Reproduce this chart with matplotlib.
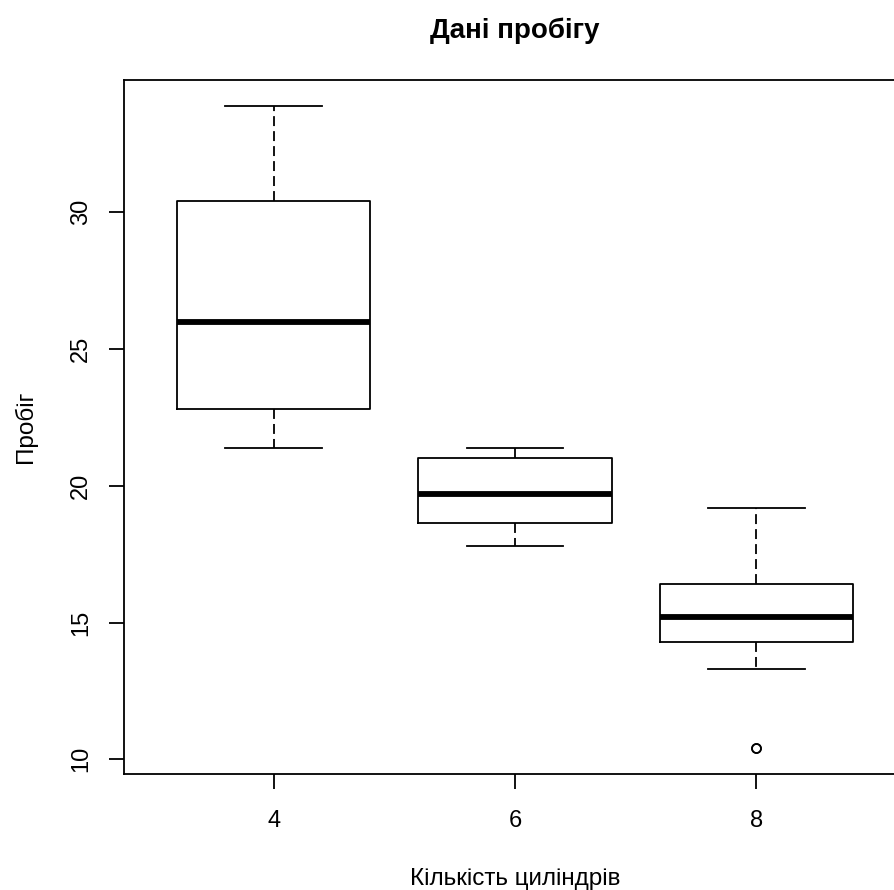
import matplotlib
matplotlib.use("Agg")
import matplotlib.pyplot as plt

# mtcars mpg grouped by cylinders, five-number summaries as drawn by R boxplot
cylinders = ["4", "6", "8"]
whisker_low = [21.4, 17.8, 13.3]
q1 = [22.8, 18.65, 14.3]
medians = [26.0, 19.7, 15.2]
q3 = [30.4, 21.0, 16.4]
whisker_high = [33.9, 21.4, 19.2]
outliers = [[], [], [10.4, 10.4]]
y_ticks = [10, 15, 20, 25, 30]

plt.rcParams["font.family"] = ["Liberation Sans", "DejaVu Sans"]

stats = []
for i, lab in enumerate(cylinders):
    stats.append({
        "label": lab,
        "whislo": whisker_low[i],
        "q1": q1[i],
        "med": medians[i],
        "q3": q3[i],
        "whishi": whisker_high[i],
        "fliers": outliers[i],
    })

fig = plt.figure(figsize=(8.94, 8.90), dpi=100)
ax = fig.add_axes([124 / 894, 116 / 890, 782 / 894, 694 / 890])

lw = 1.3
ax.bxp(
    stats,
    positions=[1, 2, 3],
    widths=0.8,
    showfliers=True,
    boxprops=dict(color="black", linewidth=lw),
    medianprops=dict(color="black", linewidth=4.2, solid_capstyle="butt"),
    whiskerprops=dict(color="black", linewidth=lw, linestyle=(0, (5.5, 2.8))),
    capprops=dict(color="black", linewidth=lw),
    capwidths=0.4,
    flierprops=dict(marker="o", markersize=6.5, markerfacecolor="none",
                    markeredgecolor="black", markeredgewidth=1.2),
)

ax.set_xlim(0.38, 3.62)
ax.set_ylim(9.46, 34.84)
ax.set_xticks([1, 2, 3])
ax.set_xticklabels(cylinders)
ax.set_yticks(y_ticks)
ax.set_yticklabels([str(t) for t in y_ticks], rotation=90, va="center")

for s in ax.spines.values():
    s.set_linewidth(lw)
ax.tick_params(axis="both", length=11, width=lw, labelsize=17)
ax.tick_params(axis="x", pad=15)
ax.tick_params(axis="y", pad=12)

ax.set_xlabel("Кількість циліндрів", fontsize=17.5, labelpad=26)
ax.set_ylabel("Пробіг", fontsize=17.5, labelpad=24)
ax.set_title("Дані пробігу", fontsize=20, fontweight="bold", pad=30)

fig.savefig("out.png", dpi=100)
